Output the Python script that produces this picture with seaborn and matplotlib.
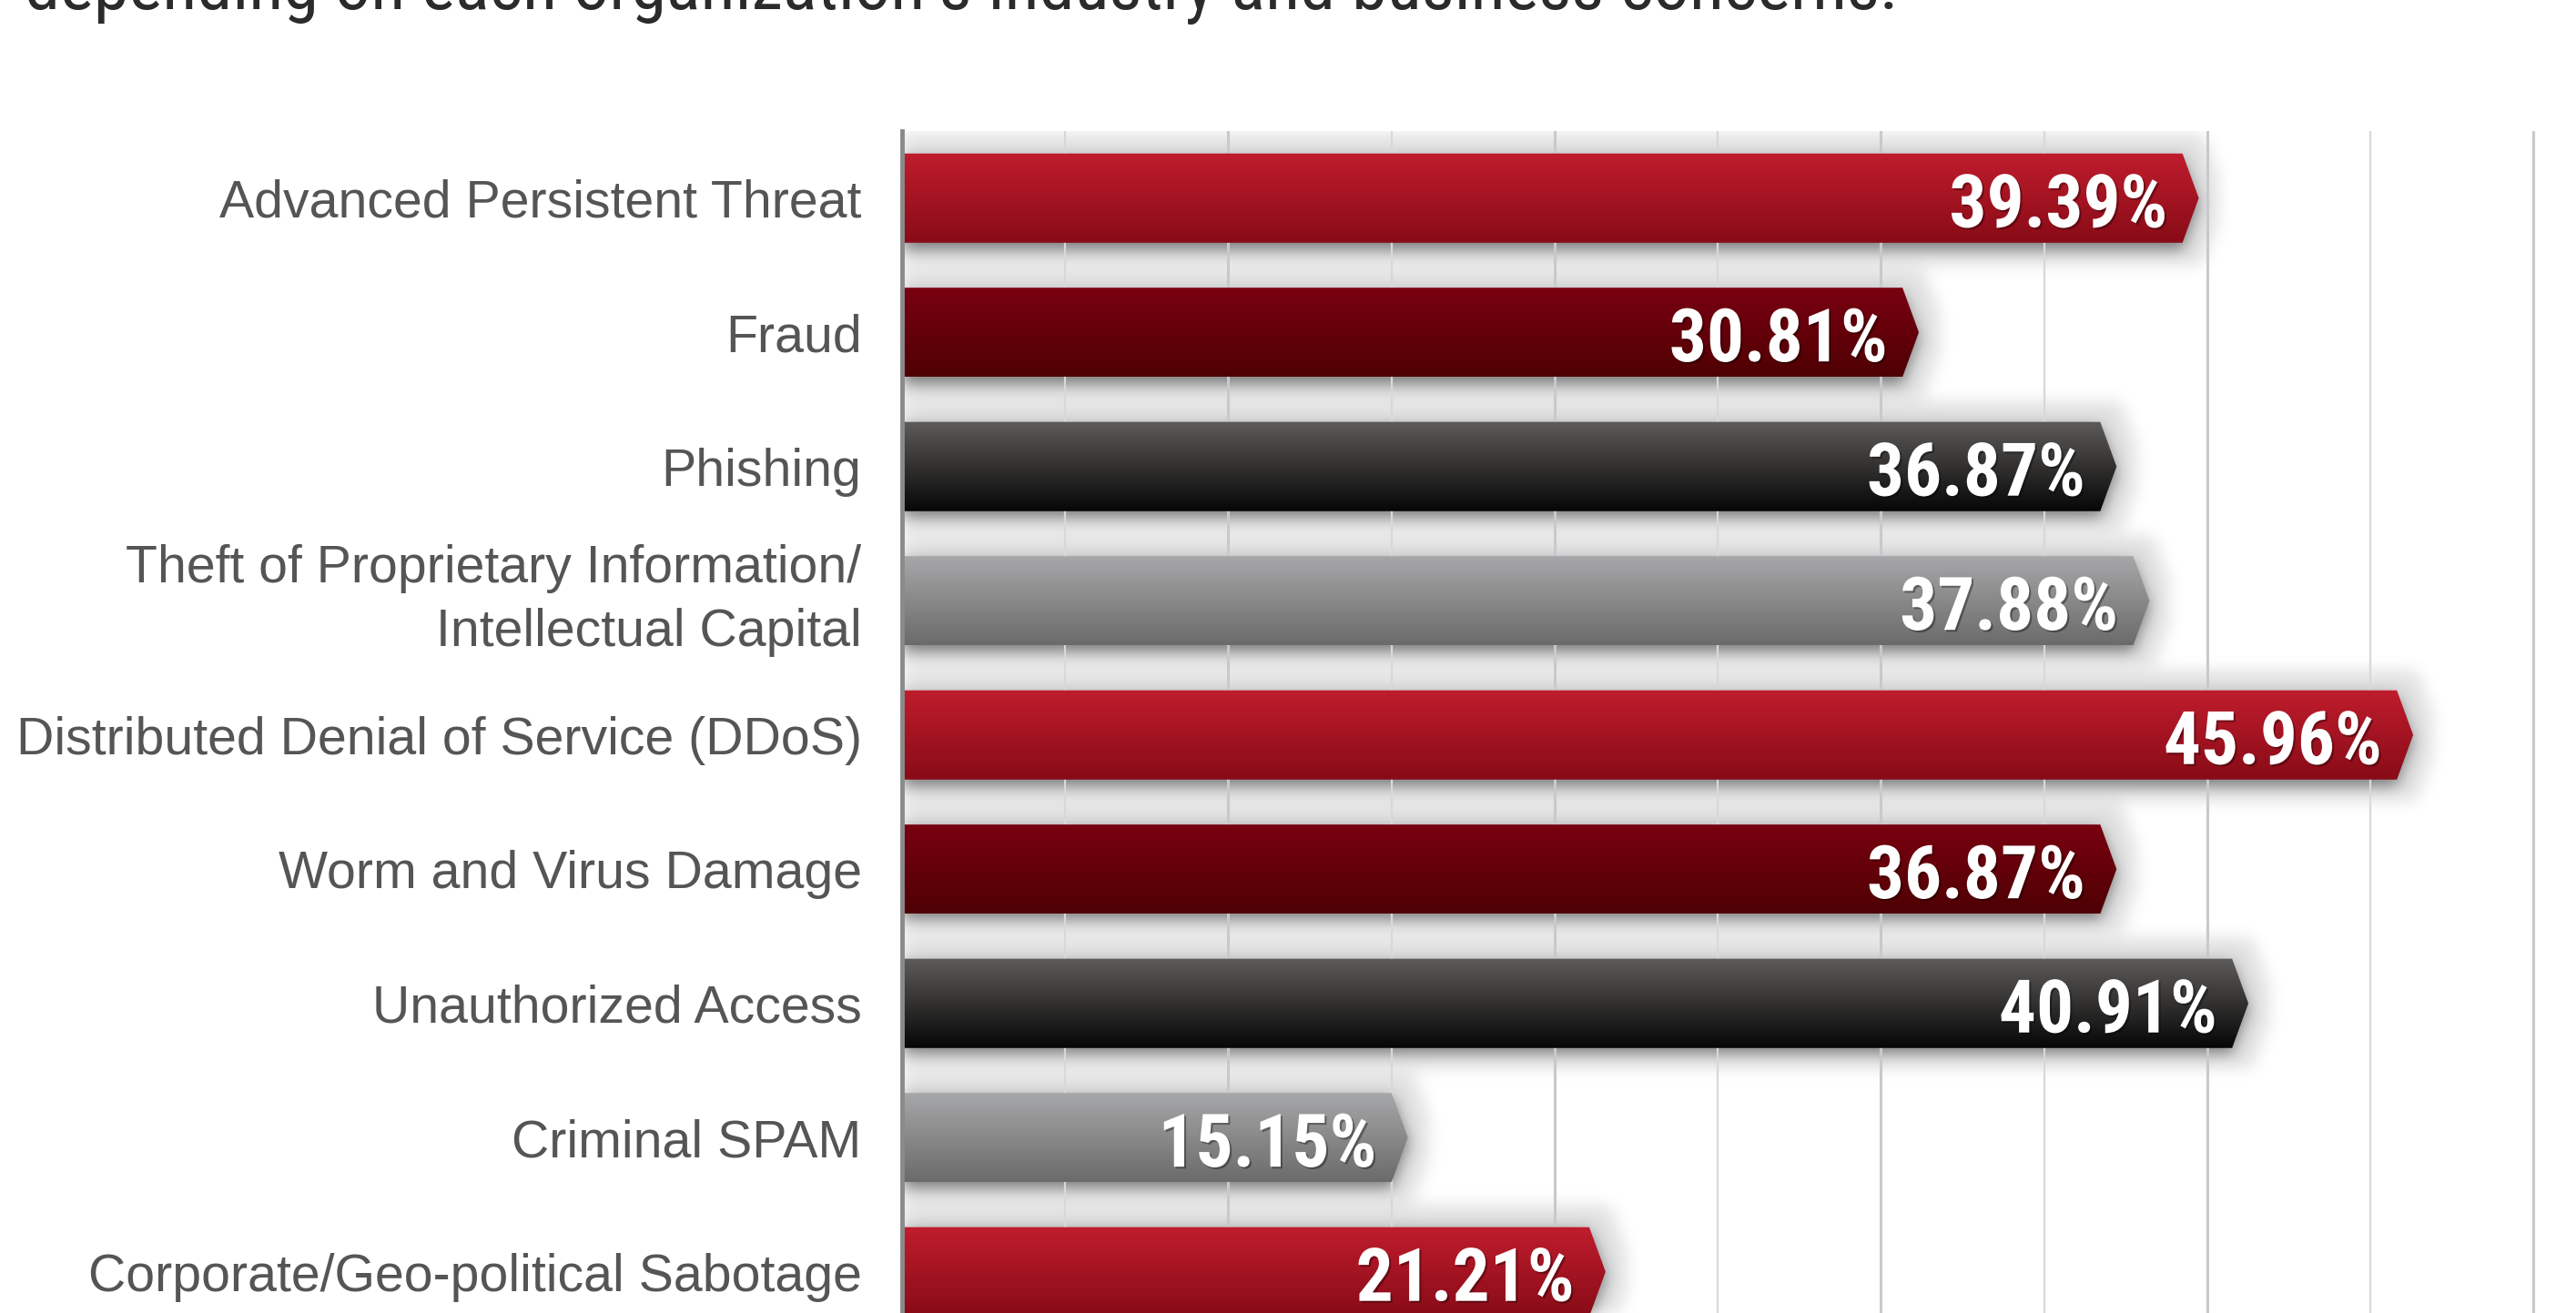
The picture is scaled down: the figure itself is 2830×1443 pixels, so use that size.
import numpy as np
import pandas as pd
import matplotlib
matplotlib.use("Agg")
import matplotlib.pyplot as plt
import seaborn as sns
from matplotlib.patches import Polygon
from matplotlib.path import Path
from matplotlib.colors import to_rgb
import matplotlib.patheffects as pe
from matplotlib import font_manager as fm

# ---------------- data ----------------
categories = [
    "Advanced Persistent Threat",
    "Fraud",
    "Phishing",
    "Theft of Proprietary Information/\nIntellectual Capital",
    "Distributed Denial of Service (DDoS)",
    "Worm and Virus Damage",
    "Unauthorized Access",
    "Criminal SPAM",
    "Corporate/Geo-political Sabotage",
]
values = [39.39, 30.81, 36.87, 37.88, 45.96, 36.87, 40.91, 15.15, 21.21]
title_text = "depending on each organization\u2019s industry and business concerns."

# bar colour scheme (top / bottom of vertical gradient)
grad_top = ["#c01d2d", "#7a0010", "#5e5c5a", "#a7a8aa",
            "#c01d2d", "#7a0010", "#5e5c5a", "#a7a8aa", "#c01d2d"]
grad_bottom = ["#880b17", "#4e0004", "#060606", "#6c6a6a",
               "#880b17", "#4e0004", "#060606", "#6c6a6a", "#880b17"]

# ---------------- fonts ----------------
sns.set_theme(style="white")
avail = {f.name for f in fm.fontManager.ttflist}


def pick(cands, default):
    for c in cands:
        if c in avail:
            return c
    return default


base_font = pick(["Liberation Sans", "Arial", "Roboto"], "DejaVu Sans")
narrow_font = pick(["Liberation Sans Narrow", "Roboto Condensed",
                    "Open Sans Condensed", "DejaVu Sans Condensed"], None)
narrow_stretch = "normal"
if narrow_font is None:
    if any(f.name == "DejaVu Sans" and f.stretch == "condensed"
           for f in fm.fontManager.ttflist):
        narrow_font = "DejaVu Sans"
        narrow_stretch = "condensed"
    else:
        narrow_font = pick(["Roboto", "Liberation Sans"], "DejaVu Sans")
plt.rcParams["font.family"] = [base_font, "DejaVu Sans"]

# ---------------- figure ----------------
W, H = 2830, 1443
fig = plt.figure(figsize=(W / 100, H / 100), dpi=100)
fig.patch.set_facecolor("white")
ax_left = 991 / W
ax_top = 144 / H
ax = fig.add_axes([ax_left, 0.0, 1 - ax_left, 1 - ax_top])
ax.set_facecolor("white")

XMAX = 51.3
YTOP, YBOT = -0.5, 8.307

df = pd.DataFrame({"cat": categories, "val": values})
sns.barplot(data=df, x="val", y="cat", hue="cat", palette=grad_top,
            orient="h", width=0.665, ax=ax, legend=False, zorder=3)

# ---------------- arrow-shaped gradient bars ----------------
polys = []
bars = []
for p in list(ax.patches):
    x0, y0, w, h = p.get_x(), p.get_y(), p.get_width(), p.get_height()
    idx = int(round(y0 + h / 2))
    p.set_visible(False)
    body_end = x0 + w - 0.15
    tip = x0 + w + 0.35
    verts = [(x0, y0), (body_end, y0), (tip, y0 + h / 2),
             (body_end, y0 + h), (x0, y0 + h)]
    polys.append(verts)
    bars.append((idx, x0, y0, w, h, verts, tip))

for idx, x0, y0, w, h, verts, tip in bars:
    poly = Polygon(verts, closed=True, transform=ax.transData,
                   facecolor="none", edgecolor="none")
    ax.add_patch(poly)
    c0 = np.array(to_rgb(grad_top[idx]))
    c1 = np.array(to_rgb(grad_bottom[idx]))
    t = np.linspace(0, 1, 256)[:, None]
    arr = (c0[None, :] * (1 - t) + c1[None, :] * t)[:, None, :]
    im = ax.imshow(arr, extent=(x0, tip, y0 + h, y0), origin="upper",
                   aspect="auto", zorder=3, interpolation="bilinear")
    im.set_clip_path(poly)

# ---------------- soft halo + drop shadow ----------------
nx, ny = 920, 650          # about half of the axes' pixel size
xs = np.linspace(0, XMAX, nx)
ys = np.linspace(YTOP, YBOT, ny)
XX, YY = np.meshgrid(xs, ys)
pts = np.column_stack([XX.ravel(), YY.ravel()])
mask = np.zeros(nx * ny)
for verts in polys:
    mask = np.maximum(mask, Path(verts).contains_points(pts).astype(float))
mask = mask.reshape(ny, nx)


def blur(a, s):
    r = int(3 * s)
    k = np.exp(-0.5 * (np.arange(-r, r + 1) / s) ** 2)
    k /= k.sum()
    a = np.apply_along_axis(lambda m: np.convolve(m, k, mode="same"), 0, a)
    a = np.apply_along_axis(lambda m: np.convolve(m, k, mode="same"), 1, a)
    return a


def dilate(a, k):
    out = a.copy()
    for d in range(1, k + 1):
        out[d:] = np.maximum(out[d:], a[:-d])
        out[:-d] = np.maximum(out[:-d], a[d:])
    a2 = out.copy()
    for d in range(1, k + 1):
        out[:, d:] = np.maximum(out[:, d:], a2[:, :-d])
        out[:, :-d] = np.maximum(out[:, :-d], a2[:, d:])
    return out


halo = blur(dilate(mask, 11), 4.5)
shift = 3
shifted = np.zeros_like(mask)
shifted[shift:] = mask[:-shift]
drop = blur(shifted, 4)
alpha = 0.13 * halo + 0.42 * drop
alpha = np.clip(alpha, 0, 0.7)
rgba = np.zeros((ny, nx, 4))
rgba[..., :3] = 0.05
rgba[..., 3] = alpha
ax.imshow(rgba, extent=(0, XMAX, YBOT, YTOP), origin="upper",
          aspect="auto", zorder=0.2, interpolation="bilinear")

# ---------------- axes styling ----------------
ax.set_xlim(0, XMAX)
ax.set_ylim(YBOT, YTOP)
ax.set_xticks(np.arange(10, 51, 10))
ax.set_xticks(np.arange(5, 51, 10), minor=True)
ax.set_axisbelow(True)
ax.grid(axis="x", which="major", color="#c8c9ce", lw=2.2)
ax.grid(axis="x", which="minor", color="#d8d8db", lw=1.6)
ax.grid(axis="y", visible=False)
ax.tick_params(axis="x", which="both", length=0, labelbottom=False)
ax.set_xlabel("")
ax.set_ylabel("")
for s in ["top", "right", "bottom"]:
    ax.spines[s].set_visible(False)
ax.spines["left"].set_color("#8a8a8a")
ax.spines["left"].set_linewidth(3.5)
ax.spines["left"].set_zorder(4)

renderer = fig.canvas.get_renderer()

# y tick labels, size fitted to the reference width of the longest label
probe = fig.text(0, 0, "Distributed Denial of Service (DDoS)", fontsize=40,
                 family=base_font)
tick_fs = 40 * 928 / probe.get_window_extent(renderer).width
probe.remove()
ax.set_yticks(range(len(categories)))
ax.set_yticklabels(categories, fontsize=tick_fs, color="#555555",
                   family=base_font)
for lab in ax.get_yticklabels():
    if "\n" in lab.get_text():
        lab.set_linespacing(1.38)
        lab.set_verticalalignment("center")
ax.tick_params(axis="y", length=0, pad=32)

# value labels
probe = fig.text(0, 0, "45.96%", fontsize=60, family=narrow_font,
                 fontweight="bold", fontstretch=narrow_stretch)
val_fs = min(66, 60 * 240 / probe.get_window_extent(renderer).width)
probe.remove()
for idx, x0, y0, w, h, verts, tip in bars:
    ax.text(values[idx] - 0.6, y0 + h / 2 + 0.01, f"{values[idx]:.2f}%",
            ha="right", va="center_baseline", color="white",
            fontsize=val_fs, fontweight="bold", family=narrow_font,
            fontstretch=narrow_stretch, zorder=6,
            path_effects=[pe.withSimplePatchShadow(offset=(1.5, -1.5),
                                                   shadow_rgbFace="black",
                                                   alpha=0.35)])

# cropped intro sentence at the very top
tt = fig.text(27 / W, 1 - 10 / H, title_text, ha="left", va="baseline",
              color="#2b2b2b", fontsize=50, family=narrow_font,
              fontstretch=narrow_stretch)
tt.set_fontsize(50 * 2058 / tt.get_window_extent(renderer).width)

fig.savefig("out.png", dpi=100, facecolor="white")
